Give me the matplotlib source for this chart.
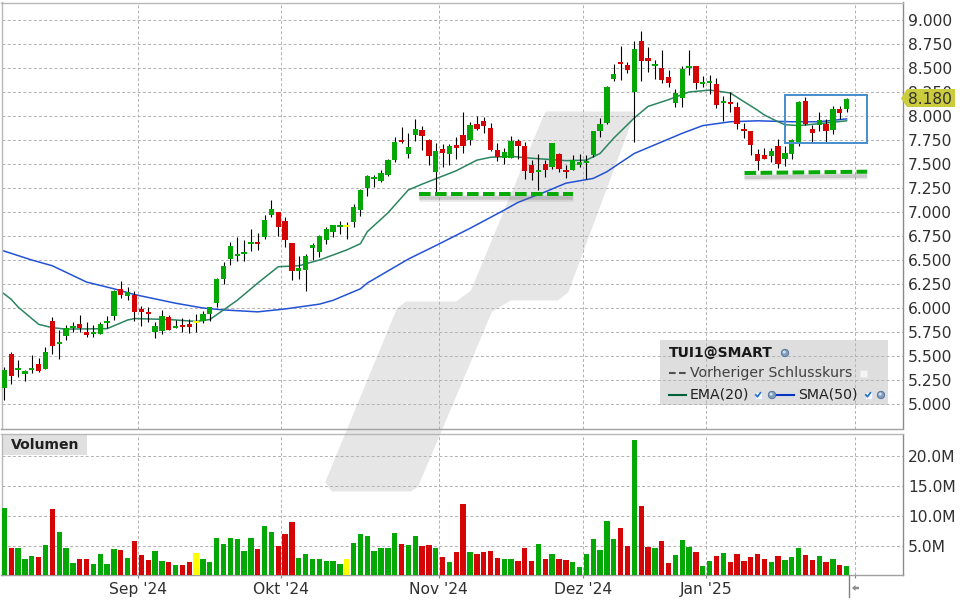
import matplotlib
matplotlib.use("Agg")
import matplotlib.pyplot as plt
from matplotlib.patches import Polygon, Rectangle, Circle

# candles, one row per trading day
opens = [5.167, 5.521, 5.354, 5.312, 5.354, 5.417, 5.365, 5.865, 5.625, 5.708, 5.792, 5.833, 5.75, 5.729, 5.729,
         5.844, 5.917, 6.198, 6.125, 6.135, 5.99, 5.958, 5.75, 5.76, 5.906, 5.792, 5.823, 5.833, 5.847, 5.865,
         5.938, 6.052, 6.302, 6.51, 6.542, 6.5625, 6.667, 6.6875, 6.74, 6.969, 7.0, 6.906, 6.677, 6.385, 6.396,
         6.625, 6.583, 6.708, 6.792, 6.844, 6.844, 6.896, 7.021, 7.25, 7.344, 7.323, 7.385, 7.542, 7.75, 7.604,
         7.802, 7.854, 7.75, 7.417, 7.656, 7.604, 7.698, 7.802, 7.75, 7.917, 7.948, 7.875, 7.646, 7.5625, 7.5625,
         7.74, 7.6875, 7.49, 7.417, 7.5, 7.469, 7.604, 7.4375, 7.4375, 7.49, 7.51, 7.594, 7.844, 7.927, 8.385,
         8.5625, 8.531, 8.25, 8.781, 8.604, 8.521, 8.5, 8.406, 8.135, 8.1875, 8.5, 8.521, 8.333, 8.344, 8.333,
         8.135, 8.146, 8.094, 7.865, 7.844, 7.604, 7.594, 7.583, 7.6875, 7.552, 7.604, 7.729, 8.156, 7.865, 7.906,
         7.917, 7.854, 8.073, 8.073]
highs = [5.382, 5.542, 5.458, 5.354, 5.51, 5.479, 5.594, 5.906, 5.771, 5.823, 5.854, 5.927, 5.854, 5.823, 5.854,
         5.917, 6.188, 6.281, 6.219, 6.177, 6.021, 6.01, 5.854, 5.979, 5.927, 5.875, 5.896, 5.885, 5.938, 5.969,
         6.01, 6.312, 6.479, 6.6875, 6.74, 6.708, 6.823, 6.781, 6.969, 7.125, 7.0, 6.948, 6.677, 6.542, 6.5625,
         6.677, 6.76, 6.844, 6.865, 6.906, 6.896, 7.083, 7.24, 7.385, 7.385, 7.4375, 7.552, 7.781, 7.885, 7.823,
         7.969, 7.896, 7.76, 7.719, 7.708, 7.708, 7.781, 8.042, 7.9375, 8.0, 7.99, 7.927, 7.719, 7.667, 7.792,
         7.76, 7.729, 7.542, 7.604, 7.542, 7.719, 7.615, 7.49, 7.594, 7.604, 7.594, 7.844, 7.979, 8.3125, 8.542,
         8.729, 8.5625, 8.781, 8.885, 8.719, 8.583, 8.6875, 8.479, 8.281, 8.521, 8.6875, 8.521, 8.417, 8.427, 8.396,
         8.208, 8.25, 8.146, 7.927, 7.844, 7.656, 7.667, 7.667, 7.76, 7.6875, 7.76, 8.156, 8.198, 7.906, 8.042,
         7.969, 8.104, 8.104, 8.19]
lows = [5.042, 5.208, 5.285, 5.243, 5.326, 5.333, 5.365, 5.521, 5.469, 5.667, 5.75, 5.75, 5.698, 5.698, 5.729,
        5.792, 5.875, 6.104, 6.083, 5.865, 5.812, 5.854, 5.688, 5.729, 5.771, 5.792, 5.75, 5.74, 5.75, 5.844,
        5.865, 6.01, 6.25, 6.448, 6.49, 6.49, 6.594, 6.604, 6.719, 6.948, 6.75, 6.635, 6.292, 6.302, 6.177,
        6.5, 6.531, 6.667, 6.74, 6.771, 6.719, 6.844, 6.958, 7.167, 7.26, 7.3125, 7.375, 7.521, 7.719, 7.5625,
        7.74, 7.646, 7.49, 7.194, 7.469, 7.49, 7.552, 7.615, 7.698, 7.854, 7.823, 7.635, 7.531, 7.5, 7.5625,
        7.552, 7.344, 7.333, 7.229, 7.365, 7.448, 7.417, 7.354, 7.4375, 7.469, 7.344, 7.573, 7.781, 7.917, 8.365,
        8.375, 8.448, 7.729, 8.365, 8.458, 8.385, 8.344, 8.302, 8.094, 8.094, 8.427, 8.281, 8.302, 8.229, 8.083,
        7.948, 8.042, 7.865, 7.771, 7.594, 7.4375, 7.552, 7.521, 7.458, 7.479, 7.552, 7.6875, 7.906, 7.729, 7.844,
        7.729, 7.812, 7.969, 8.042]
closes = [5.354, 5.292, 5.375, 5.34, 5.375, 5.344, 5.542, 5.604, 5.646, 5.792, 5.812, 5.792, 5.719, 5.75, 5.833,
          5.865, 6.177, 6.135, 6.167, 5.958, 5.958, 5.938, 5.812, 5.917, 5.771, 5.812, 5.802, 5.802, 5.847, 5.938,
          6.01, 6.302, 6.4375, 6.646, 6.5625, 6.583, 6.6875, 6.667, 6.917, 7.031, 6.844, 6.708, 6.385, 6.417, 6.542,
          6.656, 6.75, 6.823, 6.865, 6.865, 6.844, 7.052, 7.229, 7.375, 7.365, 7.406, 7.542, 7.729, 7.729, 7.677,
          7.865, 7.792, 7.583, 7.635, 7.615, 7.6875, 7.667, 7.6875, 7.906, 7.865, 7.896, 7.646, 7.573, 7.625, 7.74,
          7.6875, 7.427, 7.406, 7.4375, 7.4375, 7.719, 7.448, 7.417, 7.542, 7.521, 7.531, 7.844, 7.917, 8.302, 8.4375,
          8.542, 8.479, 8.698, 8.573, 8.573, 8.542, 8.375, 8.344, 8.24, 8.49, 8.521, 8.344, 8.354, 8.365, 8.115,
          8.156, 8.125, 7.917, 7.844, 7.698, 7.531, 7.552, 7.635, 7.5, 7.615, 7.75, 8.146, 7.917, 7.823, 7.958,
          7.844, 8.073, 8.031, 8.18]
# volume in millions
volumes = [11.32, 4.59, 4.59, 2.75, 3.25, 3.08, 5.1, 11.15, 7.28, 4.59, 2.07, 2.75, 2.75, 1.9, 3.59, 1.9, 4.43, 4.26,
           2.91, 5.77, 3.42, 2.58, 4.09, 2.41, 2.24, 1.74, 1.74, 2.24, 3.75, 2.75, 2.24, 6.27, 5.27, 6.27, 6.11, 4.09,
           6.27, 4.43, 8.29, 7.28, 4.93, 6.95, 8.96, 2.91, 3.59, 2.75, 2.75, 2.41, 2.41, 1.9, 2.75, 5.43, 6.95, 6.61,
           4.09, 4.59, 4.59, 7.11, 5.27, 5.1, 6.61, 4.93, 5.1, 4.59, 3.08, 2.24, 3.92, 11.99, 3.92, 3.59, 3.92, 4.09,
           2.91, 2.75, 2.75, 2.41, 4.59, 2.41, 5.27, 2.75, 3.59, 2.75, 2.58, 2.24, 1.4, 3.59, 6.11, 4.26, 9.13, 6.11,
           7.96, 4.93, 22.75, 11.65, 4.76, 4.59, 5.77, 2.07, 3.42, 5.94, 4.76, 3.92, 1.57, 2.41, 3.25, 3.75, 2.24, 3.59,
           2.41, 3.08, 3.59, 2.75, 2.24, 3.25, 2.58, 3.08, 4.59, 3.42, 2.58, 3.25, 2.24, 2.75, 1.74, 1.57]

# moving averages at these candle positions
sma_x = [-1, 4, 7, 12, 16, 19, 25, 29, 32, 37, 41, 46, 48, 52, 53, 59, 63, 68, 73, 75, 79, 82, 86, 88, 92, 96, 99,
         102, 106, 110, 115, 119, 123]
sma_y = [6.615, 6.50, 6.44, 6.27, 6.20, 6.14, 6.05, 6.00, 5.98, 5.96, 5.99, 6.04, 6.08, 6.20, 6.26, 6.51, 6.65, 6.83,
         7.02, 7.10, 7.21, 7.30, 7.35, 7.42, 7.61, 7.73, 7.82, 7.90, 7.94, 7.95, 7.94, 7.94, 7.97]
ema_x = [-1, 1, 2, 4, 5, 7, 9, 15, 18, 19, 24, 28, 30, 34, 37, 40, 43, 46, 50, 52, 53, 56, 59, 61, 66, 69, 71, 74, 77,
         82, 85, 87, 89, 92, 94, 97, 100, 103, 106, 108, 110, 111, 113, 114, 116, 119, 123]
ema_y = [6.20, 6.09, 6.01, 5.89, 5.83, 5.795, 5.78, 5.785, 5.875, 5.89, 5.88, 5.86, 5.88, 6.08, 6.26, 6.43, 6.44, 6.50,
         6.605, 6.67, 6.795, 6.99, 7.23, 7.29, 7.43, 7.54, 7.57, 7.58, 7.56, 7.535, 7.54, 7.61, 7.77, 7.98, 8.10, 8.17,
         8.25, 8.27, 8.24, 8.15, 8.06, 8.01, 7.94, 7.91, 7.90, 7.92, 7.95]

price_ticks = [5.0, 5.25, 5.5, 5.75, 6.0, 6.25, 6.5, 6.75, 7.0, 7.25, 7.5, 7.75, 8.0, 8.25, 8.5, 8.75, 9.0]
volume_ticks = [5, 10, 15, 20]
month_ticks = [19.45, 40.45, 63.45, 84.45, 102.45, 124.3]
month_labels = ["Sep '24", "Okt '24", "Nov '24", "Dez '24", "Jan '25", ""]

# drawn-in analysis marks
support_a_x = [60.55, 83.05]
support_a_y = [7.19, 7.19]
support_b_x = [108.1, 126.0]
support_b_y = [7.406, 7.42]
box_x = [114.0, 126.0]
box_y = [7.722, 8.219]
last_price = "8.180"

GREEN, RED, YELLOW = "#04a804", "#d60505", "#ffff00"
GRID = "#b4b4b4"
W, H = 960, 600
PX = 72 / 100  # points per pixel
# px positions of the two panels, and scale of the candle axis
LEFT, RIGHT = 1.5, 902.5
X0, STEP = 4.4, 6.847


def panel(top, bottom):
    ax = fig.add_axes([LEFT / W, 1 - bottom / H, (RIGHT - LEFT) / W, (bottom - top) / H], zorder=2)
    ax.patch.set_alpha(0)
    ax.set_xlim((LEFT - X0) / STEP, (RIGHT - X0) / STEP)
    ax.yaxis.tick_right()
    ax.set_axisbelow(True)
    ax.grid(True, color=GRID, lw=0.72, ls=(0, (3, 2.2)))
    ax.tick_params(axis="y", length=0, pad=4, labelsize=11.2, labelcolor="#303030")
    ax.set_xticks(month_ticks)
    for name, col in [("left", "#b8b8b8"), ("top", "#b8b8b8"), ("right", "#8c8c8c"), ("bottom", "#a0a0a0")]:
        ax.spines[name].set_color(col)
        ax.spines[name].set_linewidth(1.0)
    return ax


def check_box(ov, x, y):
    ov.add_patch(Rectangle((x - 3.5, y - 3.5), 7, 7, fc="#f6f8fc", ec="#d0d8e8", lw=0.4))
    ov.plot([x - 2.2, x - 0.6, x + 2.4], [y - 0.2, y + 1.8, y - 2.2], color="#1e6fd8", lw=1.2)


def gear(ov, x, y):
    ov.add_patch(Circle((x, y), 3.7, fc="#7f9cbc", ec="#4e6f96", lw=0.6))
    ov.add_patch(Circle((x - 0.8, y - 0.9), 1.5, fc="#d4e0ee", ec="none"))


fig = plt.figure(figsize=(W / 100, H / 100), dpi=100, facecolor="white")

# background layer in pixels: watermark and legend plate sit under the grid
bg = fig.add_axes([0, 0, 1, 1], zorder=0)
bg.set_xlim(0, W)
bg.set_ylim(H, 0)
bg.axis("off")
logo = [(547, 114), (632, 114), (566, 291), (557, 298), (510, 298), (490, 310), (416, 485), (410, 489), (333, 489),
        (328, 482), (399, 310), (407, 304), (457, 304), (473, 292)]
bg.add_patch(Polygon(logo, closed=True, fc="#e6e6e6", ec="#e6e6e6", lw=5 * PX, joinstyle="round"))
bg.add_patch(Rectangle((660, 340), 228, 65, fc="#dedede", ec="none"))
bg.add_patch(Rectangle((3, 435), 84, 20, fc="#e0e0e0", ec="none"))

ax = panel(2.5, 428.5)
ax.set_ylim(9 - (428.5 - 20) / 96, 9 + (20 - 2.5) / 96)
ax.set_yticks(price_ticks)
ax.set_yticklabels([f"{p:.3f}" for p in price_ticks])
ax.tick_params(axis="x", length=0, labelbottom=False)

vax = panel(433.5, 575.3)
vax.set_ylim(0, (575.3 - 433.5) / 29.75 * 5)
vax.set_yticks(volume_ticks)
vax.set_yticklabels([f"{v:.1f}M" for v in volume_ticks])
vax.set_xticklabels(month_labels)
vax.tick_params(axis="x", length=2, color="#808080", pad=3, labelsize=11.2, labelcolor="#303030")
vax.text(11 / W, 1 - 445 / H, "Volumen", transform=fig.transFigure, fontweight="bold", fontsize=10.1,
         color="#202020", va="center", ha="left")

x = list(range(len(closes)))
colors = [GREEN if c > o else RED if c < o else YELLOW for o, c in zip(opens, closes)]
body_low = [min(o, c) for o, c in zip(opens, closes)]
body_h = [max(abs(c - o), 0.02) for o, c in zip(opens, closes)]

# averages run behind the candles, the wicks behind the bodies
ax.plot(sma_x, sma_y, color="#2252d6", lw=1.1, zorder=2.5)
ax.plot(ema_x, ema_y, color="#2b8560", lw=1.1, zorder=2.5)
wicks = ax.vlines(x, lows, highs, color="black", lw=0.8, zorder=3)
wicks.set_snap(True)
ax.bar(x, body_h, bottom=body_low, width=0.78, color=colors, lw=0, zorder=4)
vax.bar(x, volumes, width=0.78, color=colors, lw=0, zorder=3)

for sx, sy in [(support_a_x, support_a_y), (support_b_x, support_b_y)]:
    shadow = [p - 0.045 for p in sy]
    ax.plot(sx, shadow, color="#707070", alpha=0.16, lw=6.5 * PX, solid_capstyle="butt", zorder=4.5)
    ax.plot(sx, shadow, color="#707070", alpha=0.26, lw=3.5 * PX, solid_capstyle="butt", zorder=4.5)
    ax.plot(sx, sy, color="#07aa07", lw=4 * PX, ls=(0, (2.9, 1.1)), dash_capstyle="butt", zorder=5)
ax.add_patch(Rectangle((box_x[0], box_y[0]), box_x[1] - box_x[0], box_y[1] - box_y[0], fc="none", ec="#4a90cc",
                       lw=2 * PX, zorder=5))

# top layer in pixels: legend contents, price tag, scroll handle
ov = fig.add_axes([0, 0, 1, 1], zorder=5)
ov.patch.set_alpha(0)
ov.set_xlim(0, W)
ov.set_ylim(H, 0)
ov.axis("off")

ov.text(669, 353, "TUI1@SMART", fontweight="bold", fontsize=10, color="#181818", va="center")
gear(ov, 785, 353)
ov.plot([669, 686], [373, 373], color="#505050", lw=1.5, ls=(0, (3.2, 1.6)))
ov.text(690, 373, "Vorheriger Schlusskurs", fontsize=10.2, color="#404040", va="center")
ov.add_patch(Rectangle((860, 370), 7, 7, fc="#f4f4f4", ec="#e8e8e8", lw=0.4))
ov.plot([669, 686], [395, 395], color="#00603a", lw=1.5)
ov.text(690, 395, "EMA(20)", fontsize=10.2, color="#202020", va="center")
check_box(ov, 758, 395)
gear(ov, 772, 395)
ov.plot([777, 794], [395, 395], color="#0a35c4", lw=1.5)
ov.text(798, 395, "SMA(50)", fontsize=10.2, color="#202020", va="center")
check_box(ov, 868, 395)
gear(ov, 881, 395)

ov.add_patch(Polygon([(901, 98.5), (907, 89), (955, 89), (955, 107), (907, 107)], closed=True, fc="#cbcb3e", ec="none"))
ov.text(908, 98.5, last_price, fontsize=11.2, color="#303030", va="center_baseline", ha="left")

ov.plot([849, 849], [575, 597], color="#808080", lw=1.0)
ov.add_patch(Polygon([(852, 588), (855.5, 585), (855.5, 586.8), (859, 586.8), (859, 589.2), (855.5, 589.2), (855.5, 591)],
                     closed=True, fc="#8c8c8c", ec="none"))

fig.savefig("out.png", dpi=100, facecolor="white")
